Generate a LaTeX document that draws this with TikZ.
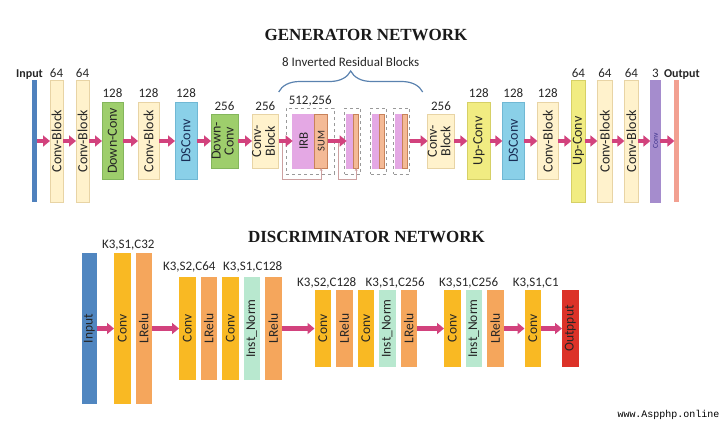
\documentclass[tikz,border=0pt]{standalone}
\usepackage{fontspec}
\setmainfont{Carlito}
\newfontfamily\titlefont{Liberation Serif}
\newfontfamily\wmfont{Liberation Mono}
\usepackage{xcolor}
\usepackage{graphicx}
\usepackage{tikz}
\usetikzlibrary{arrows.meta, positioning, calc, fit, decorations.pathreplacing}
\definecolor{arrowcol}{RGB}{210,66,125}
\definecolor{skipcol}{RGB}{205,160,160}
\definecolor{bracecol}{RGB}{90,130,175}
\definecolor{ginfill}{RGB}{79,129,189}
\definecolor{cbfill}{RGB}{255,242,204}
\definecolor{cbdraw}{RGB}{232,212,165}
\definecolor{dnfill}{RGB}{158,206,108}
\definecolor{dndraw}{RGB}{132,182,92}
\definecolor{dsfill}{RGB}{138,208,232}
\definecolor{dsdraw}{RGB}{112,184,212}
\definecolor{dstext}{RGB}{25,45,85}
\definecolor{upfill}{RGB}{241,236,130}
\definecolor{updraw}{RGB}{214,208,102}
\definecolor{irbfill}{RGB}{228,168,228}
\definecolor{sumfill}{RGB}{244,186,150}
\definecolor{sumdraw}{RGB}{200,130,90}
\definecolor{gcvfill}{RGB}{165,140,205}
\definecolor{gcvtext}{RGB}{60,50,140}
\definecolor{goutfill}{RGB}{242,160,145}
\definecolor{dinfill}{RGB}{80,134,192}
\definecolor{dcvfill}{RGB}{249,185,35}
\definecolor{drlfill}{RGB}{245,166,92}
\definecolor{dnmfill}{RGB}{184,232,207}
\definecolor{doutfill}{RGB}{220,50,40}
\newcommand{\vlab}[1]{\rotatebox{90}{#1}}
\newcommand{\vlabb}[2]{\rotatebox{90}{\begin{tabular}{@{}c@{}}#1\\#2\end{tabular}}}
\renewcommand{\arraystretch}{0.9}
\tikzstyle{gblk} = [rectangle, inner sep=0pt, outer sep=0pt, text centered, text=black!85, font=\fontsize{14}{14.5}\selectfont]
\tikzstyle{convblk} = [gblk, fill=cbfill, draw=cbdraw]
\tikzstyle{downblk} = [gblk, fill=dnfill, draw=dndraw]
\tikzstyle{dsblk} = [gblk, fill=dsfill, draw=dsdraw, text=dstext]
\tikzstyle{upblk} = [gblk, fill=upfill, draw=updraw]
\tikzstyle{irbblk} = [gblk, fill=irbfill, draw=irbfill, font=\fontsize{13}{14}\selectfont]
\tikzstyle{sumblk} = [gblk, fill=sumfill, draw=sumdraw, font=\fontsize{10.5}{12}\selectfont]
\tikzstyle{dbox} = [draw=gray!80, dashed, thin, outer sep=0pt, inner xsep=2pt, inner ysep=6pt]
\tikzstyle{gtall} = [minimum height=122pt]
\tikzstyle{gmid} = [minimum height=77pt]
\tikzstyle{gshort} = [minimum height=54pt]
\tikzstyle{glbl} = [inner sep=0pt, font=\fontsize{13}{14}\selectfont, text=black!85]
\tikzstyle{klbl} = [glbl, font=\fontsize{13}{14}\selectfont]
\tikzstyle{iolbl} = [glbl, font=\bfseries\fontsize{12}{14}\selectfont]
\tikzstyle{ttl} = [inner sep=0pt, font=\titlefont\bfseries\fontsize{17}{20}\selectfont, text=black!90]
\tikzstyle{arrow} = [line width=4.5pt, draw=arrowcol, -{Triangle[length=7pt, width=11pt]}]
\tikzstyle{skip} = [draw=skipcol, line width=0.8pt, -{Stealth[length=3pt, width=3pt]}]
\tikzstyle{brace} = [decorate, decoration={brace, amplitude=21pt}, draw=bracecol, line width=1.2pt]
\tikzstyle{dblk} = [rectangle, inner sep=0pt, outer sep=0pt, minimum width=16.5pt, text centered, text=black!85, font=\fontsize{13.5}{14}\selectfont]
\tikzstyle{dconv} = [dblk, fill=dcvfill]
\tikzstyle{drelu} = [dblk, fill=drlfill]
\tikzstyle{dnorm} = [dblk, fill=dnmfill]
\tikzstyle{dgrpa} = [minimum height=151pt]
\tikzstyle{dgrpb} = [minimum height=103pt]
\tikzstyle{dgrpc} = [minimum height=77pt]
\tikzset{
  numt/.style={label={[glbl, yshift=2.5pt]above:#1}},
  numm/.style={label={[glbl, yshift=5pt]above:#1}},
  nums/.style={label={[glbl, yshift=3.5pt]above:#1}}
}

\begin{document}
\begin{tikzpicture}[x=1pt, y=1pt]
    \useasboundingbox (0,0) rectangle (720,-421);

    % Generator - nodes
    \node (gtitle) [ttl] at (366,-35) {GENERATOR NETWORK};
    \node (gin) [gblk, fill=ginfill, gtall, minimum width=5pt, label={[iolbl, xshift=-5pt]above:Input}] at (34.5,-141) {};
    \node (gcb1) [convblk, gtall, minimum width=13pt, numt=64, right=13pt of gin] {\vlab{Conv-Block}};
    \node (gcb2) [convblk, gtall, minimum width=13pt, numt=64, right=13pt of gcb1] {\vlab{Conv-Block}};
    \node (gdn1) [downblk, gmid, minimum width=21pt, numm=128, right=13pt of gcb2] {\vlab{Down-Conv}};
    \node (gcb3) [convblk, gmid, minimum width=21pt, numm=128, right=15pt of gdn1] {\vlab{Conv-Block}};
    \node (gds1) [dsblk, gmid, minimum width=22pt, numm=128, right=16pt of gcb3] {\vlab{DSConv}};
    \node (gdn2) [downblk, gshort, minimum width=27pt, nums=256, right=14pt of gds1] {\vlabb{Down-}{Conv}};
    \node (gcb4) [convblk, gshort, minimum width=26pt, nums=256, right=14pt of gdn2] {\vlabb{Conv-}{Block}};

    % inverted residual blocks
    \node (irb) [irbblk, gshort, minimum width=22pt, right=14pt of gcb4] {\vlab{IRB}};
    \node (sum) [sumblk, gshort, minimum width=13pt, right=0pt of irb] {\vlab{SUM}};
    \node (box1) [dbox, inner xsep=6.5pt, fit=(irb)(sum)] {};
    \node (irb2) [irbblk, gshort, minimum width=7pt, right=19pt of sum] {};
    \node (sum2) [sumblk, gshort, minimum width=5pt, right=0pt of irb2] {};
    \node (box2) [dbox, fit=(irb2)(sum2)] {};
    \node (irb3) [irbblk, gshort, minimum width=7pt, right=14pt of sum2] {};
    \node (sum3) [sumblk, gshort, minimum width=5pt, right=0pt of irb3] {};
    \node (box3) [dbox, fit=(irb3)(sum3)] {};
    \node (irb4) [irbblk, gshort, minimum width=7pt, right=11pt of sum3] {};
    \node (sum4) [sumblk, gshort, minimum width=5pt, right=0pt of irb4] {};
    \node (box4) [dbox, fit=(irb4)(sum4)] {};

    \node (gcb5) [convblk, gshort, minimum width=26pt, nums=256, right=18pt of box4] {\vlabb{Conv-}{Block}};
    \node (gup1) [upblk, gmid, minimum width=23pt, numm=128, right=13pt of gcb5] {\vlab{Up-Conv}};
    \node (gds2) [dsblk, gmid, minimum width=22pt, numm=128, right=12pt of gup1] {\vlab{DSConv}};
    \node (gcb6) [convblk, gmid, minimum width=21pt, numm=128, right=13pt of gds2] {\vlab{Conv-Block}};
    \node (gup2) [upblk, gtall, minimum width=14pt, numt=64, right=13pt of gcb6] {\vlab{Up-Conv}};
    \node (gcb7) [convblk, gtall, minimum width=15pt, numt=64, right=12pt of gup2] {\vlab{Conv-Block}};
    \node (gcb8) [convblk, gtall, minimum width=14pt, numt=64, right=12pt of gcb7] {\vlab{Conv-Block}};
    \node (gcv) [gblk, fill=gcvfill, draw=gcvfill, gtall, minimum width=10pt, numt=3, text=gcvtext, font=\fontsize{7.5}{8}\selectfont, right=12pt of gcb8] {\vlab{Conv}};
    \node (gout) [gblk, fill=goutfill, gtall, minimum width=5pt, right=14pt of gcv, label={[iolbl, xshift=5pt]above:Output}] {};

    % Labels
    \node (l512) [glbl, above=1.5pt of box1] {512,256};
    \coordinate (bl) at ($(gcb4.north east)+(0,22)$);
    \coordinate (br) at ($(gcb5.north west)+(-5,22)$);
    \draw [brace] (bl) -- node (nirb) [midway, above=25pt, klbl] {8 Inverted Residual Blocks} (br);

    % skip connections
    \draw [skip] ($(gcb4.east)+(4,0)$) |- ($(sum.south)+(0,-11)$) -- (sum.south);
    \draw [skip] ($(box1.east)+(4,0)$) |- ($(sum2.south)+(0,-11)$) -- (sum2.south);

    % Arrows
    \draw [arrow] (gin) -- (gcb1);
    \draw [arrow] (gcb1) -- (gcb2);
    \draw [arrow] (gcb2) -- (gdn1);
    \draw [arrow] (gdn1) -- (gcb3);
    \draw [arrow] (gcb3) -- (gds1);
    \draw [arrow] (gds1) -- (gdn2);
    \draw [arrow] (gdn2) -- (gcb4);
    \draw [arrow] (gcb4) -- (irb);
    \draw [arrow] (sum) -- (irb2);
    \draw [arrow] (box4) -- (gcb5);
    \draw [arrow] (gcb5) -- (gup1);
    \draw [arrow] (gup1) -- (gds2);
    \draw [arrow] (gds2) -- (gcb6);
    \draw [arrow] (gcb6) -- (gup2);
    \draw [arrow] (gup2) -- (gcb7);
    \draw [arrow] (gcb7) -- (gcb8);
    \draw [arrow] (gcb8) -- (gcv);
    \draw [arrow] (gcv) -- (gout);

    % Discriminator - nodes
    \node (dtitle) [ttl] at (366.5,-237) {DISCRIMINATOR NETWORK};
    \node (din) [dblk, fill=dinfill, dgrpa, minimum width=15pt] at (89.5,-328.5) {\vlab{Input}};
    \node (dcv1) [dconv, dgrpa, right=17pt of din] {\vlab{Conv}};
    \node (drl1) [drelu, dgrpa, right=5pt of dcv1] {\vlab{LRelu}};
    \node (dcv2) [dconv, dgrpb, right=27pt of drl1] {\vlab{Conv}};
    \node (drl2) [drelu, dgrpb, right=5pt of dcv2] {\vlab{LRelu}};
    \node (dcv3) [dconv, dgrpb, right=5pt of drl2] {\vlab{Conv}};
    \node (dnm1) [dnorm, dgrpb, right=5pt of dcv3] {\vlab{Inst\_Norm}};
    \node (drl3) [drelu, dgrpb, right=5pt of dnm1] {\vlab{LRelu}};
    \node (dcv4) [dconv, dgrpc, right=33pt of drl3] {\vlab{Conv}};
    \node (drl4) [drelu, dgrpc, right=5pt of dcv4] {\vlab{LRelu}};
    \node (dcv5) [dconv, dgrpc, right=5pt of drl4] {\vlab{Conv}};
    \node (dnm2) [dnorm, dgrpc, right=5pt of dcv5] {\vlab{Inst\_Norm}};
    \node (drl5) [drelu, dgrpc, right=5pt of dnm2] {\vlab{LRelu}};
    \node (dcv6) [dconv, dgrpc, right=27pt of drl5] {\vlab{Conv}};
    \node (dnm3) [dnorm, dgrpc, right=5pt of dcv6] {\vlab{Inst\_Norm}};
    \node (drl6) [drelu, dgrpc, right=5pt of dnm3] {\vlab{LRelu}};
    \node (dcv7) [dconv, dgrpc, right=21pt of drl6] {\vlab{Conv}};
    \node (dout) [dblk, fill=doutfill, dgrpc, right=21pt of dcv7] {\vlab{Outpput}};

    % Arrows
    \draw [arrow] (din) -- (dcv1);
    \draw [arrow] (drl1) -- (dcv2);
    \draw [arrow] (drl3) -- (dcv4);
    \draw [arrow] (drl5) -- (dcv6);
    \draw [arrow] (drl6) -- (dcv7);
    \draw [arrow] (dcv7) -- (dout);

    % Labels
    \node (k1) [klbl, above=2.3pt of dcv1, xshift=6pt] {K3,S1,C32};
    \node (k2) [klbl, above=4.3pt of dcv2, xshift=2pt] {K3,S2,C64};
    \node (k3) [klbl, above=4.3pt of dnm1, xshift=1pt] {K3,S1,C128};
    \node (k4) [klbl, above=1.3pt of dcv4, xshift=4pt] {K3,S2,C128};
    \node (k5) [klbl, above=1.3pt of dnm2, xshift=8pt] {K3,S1,C256};
    \node (k6) [klbl, above=1.3pt of dnm3, xshift=-5pt] {K3,S1,C256};
    \node (k7) [klbl, above=1.3pt of dcv7, xshift=3pt] {K3,S1,C1};

    \node (wm) at (668.5,-415) {\wmfont\fontsize{10}{12}\selectfont www.Aspphp.online};
\end{tikzpicture}
\end{document}
